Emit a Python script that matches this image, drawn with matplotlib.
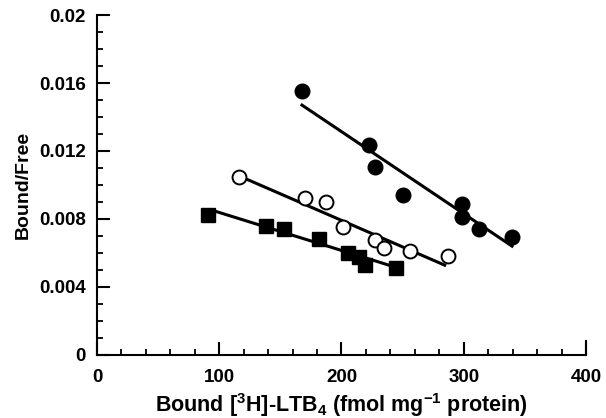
import numpy as np
import matplotlib
matplotlib.use("Agg")
import matplotlib.pyplot as plt
from matplotlib.ticker import MultipleLocator

plt.rcParams["font.family"] = ["Liberation Sans", "DejaVu Sans"]
plt.rcParams["mathtext.fontset"] = "custom"
plt.rcParams["mathtext.rm"] = "Liberation Sans:bold"
plt.rcParams["mathtext.bf"] = "Liberation Sans:bold"
plt.rcParams["mathtext.default"] = "bf"

# filled circles
filled_x = [167.7, 222.3, 227.2, 250.6, 298.6, 298.6, 312.7, 339.5]
filled_y = [0.01553, 0.01235, 0.01104, 0.00941, 0.00888, 0.0081, 0.00741, 0.00694]
filled_fit_x = [167.7, 339.5]
filled_fit_y = [0.0147, 0.0064]

# open circles
open_x = [116.2, 169.9, 187.3, 201.0, 227.2, 234.8, 256.0, 287.1]
open_y = [0.01045, 0.00925, 0.00898, 0.00753, 0.00675, 0.0063, 0.00614, 0.00582]
open_fit_x = [120.5, 284.4]
open_fit_y = [0.0104, 0.00528]

# filled squares
sq_x = [91.0, 138.0, 153.2, 181.8, 205.3, 214.6, 219.5, 244.6]
sq_y = [0.00824, 0.0076, 0.0074, 0.00684, 0.0060, 0.00578, 0.00528, 0.0051]
sq_fit_x = [95.1, 242.4]
sq_fit_y = [0.00849, 0.0052]

x_ticks = [0, 100, 200, 300, 400]
y_ticks = [0, 0.004, 0.008, 0.012, 0.016, 0.02]
y_ticklabels = ["0", "0.004", "0.008", "0.012", "0.016", "0.02"]

fig = plt.figure(figsize=(6.06, 4.18), dpi=100)
ax = fig.add_axes([0.160, 0.151, 0.807, 0.813])

lw = 2.2
ax.plot(filled_fit_x, filled_fit_y, color="black", lw=lw, zorder=2)
ax.plot(open_fit_x, open_fit_y, color="black", lw=lw, zorder=2)
ax.plot(sq_fit_x, sq_fit_y, color="black", lw=lw, zorder=2)

ax.plot(filled_x, filled_y, "o", color="black", ms=10.5, zorder=3, clip_on=False)
ax.plot(open_x, open_y, "o", mfc="white", mec="black", mew=1.4, ms=10, zorder=3, clip_on=False)
ax.plot(sq_x, sq_y, "s", color="black", ms=9.5, zorder=3, clip_on=False)

ax.set_xlim(0, 400)
ax.set_ylim(0, 0.02)
ax.xaxis.set_minor_locator(MultipleLocator(20))
ax.yaxis.set_minor_locator(MultipleLocator(0.001))
ax.set_xticks(x_ticks)
ax.set_xticklabels([str(t) for t in x_ticks])
ax.set_yticks(y_ticks)
ax.set_yticklabels(y_ticklabels)

for s in ["top", "right"]:
    ax.spines[s].set_visible(False)
for s in ["left", "bottom"]:
    ax.spines[s].set_linewidth(1.5)

ax.tick_params(which="major", direction="in", length=9.5, width=1.5,
               labelsize=13.5)
ax.tick_params(axis="y", which="major", pad=8)
ax.tick_params(axis="x", which="major", pad=10)
ax.tick_params(which="minor", direction="in", length=4, width=1.3)
for lab in ax.get_xticklabels() + ax.get_yticklabels():
    lab.set_fontweight("bold")

# tick at right end of x axis
ax.plot([400, 400], [0, 0.0008], color="black", lw=1.5, clip_on=False)

ax.set_ylabel("Bound/Free", fontsize=14, fontweight="bold", labelpad=5)
ax.set_xlabel(r"Bound [$^{3}$H]-LTB$_{4}$ (fmol mg$^{-1}$ protein)",
              fontsize=15.5, fontweight="bold", labelpad=4)

fig.savefig("out.png", dpi=100)
